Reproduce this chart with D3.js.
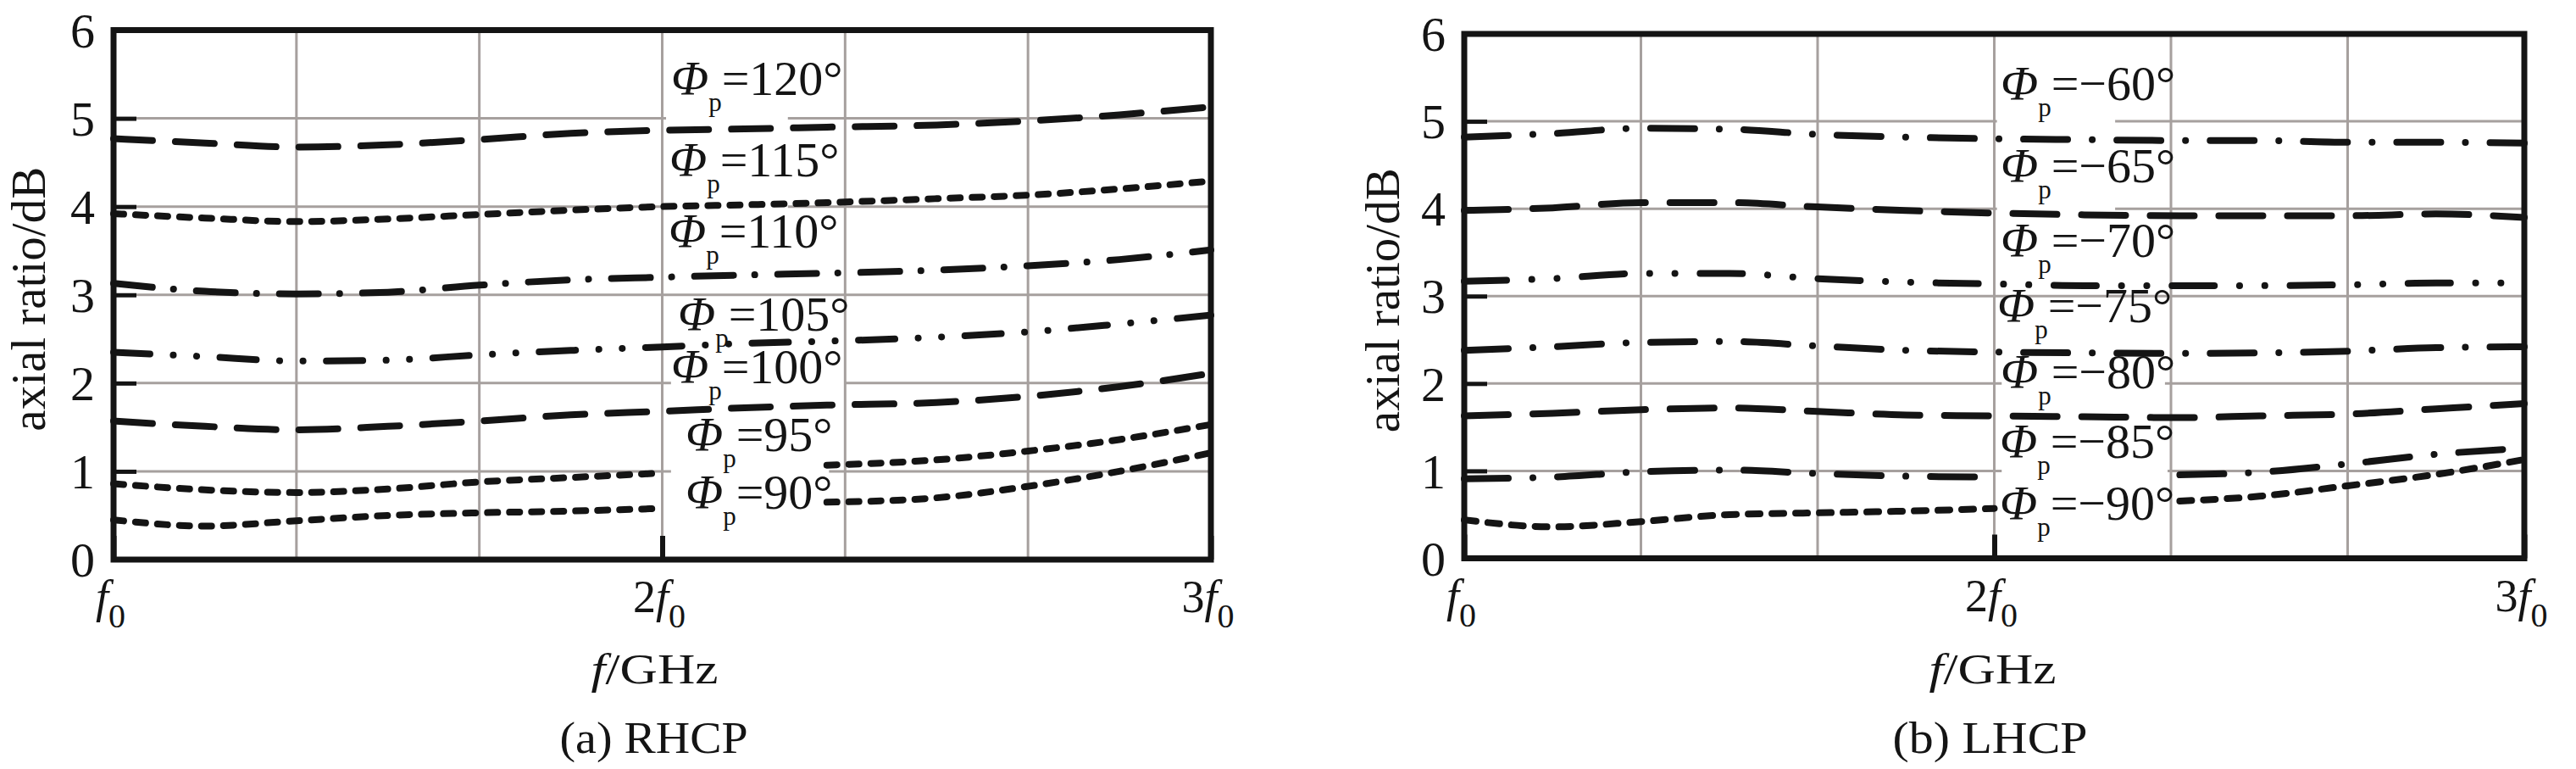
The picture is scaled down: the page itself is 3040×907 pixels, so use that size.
<!DOCTYPE html>
<html><head><meta charset="utf-8">
<script src="https://cdn.jsdelivr.net/npm/d3@7"></script>
<style>
html,body{margin:0;padding:0;background:#fff;}
svg{display:block;}
text{font-family:"Liberation Serif","Times New Roman",serif;fill:#141414;}
</style></head><body>
<svg id="chart" width="3040" height="907"></svg>
<script>
// ---------------- data ----------------
const xTickValues = [1, 2, 3];
const xTickCoef = ["", "2", "3"];
const yTickValues = [0, 1, 2, 3, 4, 5, 6];
const gridFreqs = [1, 4/3, 5/3, 2, 7/3, 8/3, 3];

// (a) RHCP  (frequency in units of f0)
const freqA = [1, 1.1667, 1.3333, 1.5, 1.6667, 1.8333, 2, 2.15, 2.3, 2.5, 2.6667, 2.8333, 3];
const rhcp120 = [4.77, 4.72, 4.675, 4.70, 4.76, 4.83, 4.865, 4.88, 4.90, 4.925, 4.97, 5.04, 5.13];
const rhcp115 = [3.92, 3.87, 3.83, 3.86, 3.91, 3.96, 4.00, 4.02, 4.045, 4.09, 4.13, 4.20, 4.29];
const rhcp110 = [3.13, 3.04, 3.01, 3.03, 3.11, 3.17, 3.20, 3.225, 3.245, 3.28, 3.33, 3.40, 3.51];
const rhcp105 = [2.35, 2.30, 2.25, 2.26, 2.32, 2.37, 2.41, 2.45, 2.475, 2.52, 2.58, 2.67, 2.77];
const rhcp100 = [1.57, 1.51, 1.47, 1.51, 1.57, 1.64, 1.68, 1.72, 1.75, 1.78, 1.85, 1.96, 2.11];
const rhcp95  = [0.86, 0.79, 0.76, 0.80, 0.88, 0.93, 0.98, null, 1.07, 1.13, 1.23, 1.36, 1.53];
const rhcp90  = [0.45, 0.38, 0.44, 0.50, 0.53, 0.55, 0.58, null, 0.65, 0.70, 0.83, 1.00, 1.21];
const labelsA = ["=120°", "=115°", "=110°", "=105°", "=100°", "=95°", "=90°"];

// (b) LHCP
const freqB = [1, 1.1667, 1.3333, 1.5, 1.6667, 1.8333, 2, 2.17, 2.35, 2.5, 2.6667, 2.8333, 3];
const lhcp60 = [4.82, 4.86, 4.92, 4.91, 4.85, 4.82, 4.80, 4.79, 4.78, 4.78, 4.76, 4.76, 4.75];
const lhcp65 = [3.98, 4.01, 4.07, 4.07, 4.02, 3.98, 3.95, 3.93, 3.92, 3.92, 3.92, 3.94, 3.90];
const lhcp70 = [3.17, 3.20, 3.26, 3.26, 3.20, 3.16, 3.14, 3.12, 3.12, 3.12, 3.13, 3.15, 3.15];
const lhcp75 = [2.38, 2.42, 2.47, 2.48, 2.43, 2.38, 2.36, 2.35, 2.345, 2.35, 2.37, 2.41, 2.42];
const lhcp80 = [1.63, 1.66, 1.70, 1.72, 1.68, 1.64, 1.63, 1.62, 1.61, 1.63, 1.65, 1.71, 1.77];
const lhcp85 = [0.91, 0.93, 0.99, 1.01, 0.97, 0.94, 0.93, null, 0.955, 0.985, 1.08, 1.19, 1.26];
const lhcp90 = [0.44, 0.36, 0.42, 0.50, 0.52, 0.54, 0.57, null, 0.655, 0.71, 0.83, 0.96, 1.13];
const labelsB = ["=\u221260°", "=\u221265°", "=\u221270°", "=\u221275°", "=\u221280°", "=\u221285°", "=\u221290°"];

// ---------------- styling / layout ----------------
const INK = "#141414", GRID = "#a6a09e";
const svg = d3.select("#chart");

const panels = [
  {
    xRange: [134, 1429], yRange: [660, 35.5],
    freq: freqA,
    series: [rhcp120, rhcp115, rhcp110, rhcp105, rhcp100, rhcp95, rhcp90],
    styles: ["long", "short", "dashdot", "dashdotdot", "long", "short", "short"],
    dash: {long: "46,27", short: "12,14", dashdot: "46,25,0.1,27", dashdotdot: "43,27.5,0.1,27.5,0.1,27.5"},
    labels: labelsA,
    labelDx: [10.5, 8.5, 7.5, 18.5, 10.5, 27.5, 27.5],
    labelBase: [112, 208, 292, 390, 452, 532, 600],
    gaps: {5: [2.007, 2.229], 4: [2.007, 2.229], 2: [2.016, 2.333], 1: [2.016, 2.304]},
    titleX: 53, xLabelDx: -9, capDx: -10, caption: "(a) RHCP", capLen: 222
  },
  {
    xRange: [1728, 2979], yRange: [658.5, 40],
    freq: freqB,
    series: [lhcp60, lhcp65, lhcp70, lhcp75, lhcp80, lhcp85, lhcp90],
    styles: ["dashdot", "long", "dashdotdot", "dashdot", "long", "dashdot", "short"],
    dash: {long: "52,29", short: "14,14", dashdot: "52,29,0.1,29", dashdotdot: "50,29.7,0.1,29.7,0.1,29.7"},
    labels: labelsB,
    labelDx: [7.5, 7.5, 7.5, 3.5, 7.5, 6.5, 6.5],
    labelBase: [118, 215, 303, 380, 458, 540, 613],
    gaps: {5: [2.005, 2.228], 4: [2.005, 2.228], 2: [2.014, 2.322], 1: [2.014, 2.327]},
    titleX: 1651, xLabelDx: -2, capDx: -5, caption: "(b) LHCP", capLen: 230
  }
];

panels.forEach(cfg => {
  const x = d3.scaleLinear().domain([1, 3]).range(cfg.xRange);
  const y = d3.scaleLinear().domain([0, 6]).range(cfg.yRange);
  const g = svg.append("g");

  // vertical grid
  g.append("g").selectAll("line").data(gridFreqs.slice(1, -1)).join("line")
    .attr("x1", d => x(d)).attr("x2", d => x(d))
    .attr("y1", y(6)).attr("y2", y(0))
    .attr("stroke", GRID).attr("stroke-width", 3);

  // horizontal grid (interrupted behind labels)
  const segs = [];
  [1, 2, 3, 4, 5].forEach(v => {
    const gp = cfg.gaps[v];
    if (gp) { segs.push([v, 1, gp[0]]); segs.push([v, gp[1], 3]); }
    else segs.push([v, 1, 3]);
  });
  g.append("g").selectAll("line").data(segs).join("line")
    .attr("x1", d => x(d[1])).attr("x2", d => x(d[2]))
    .attr("y1", d => y(d[0])).attr("y2", d => y(d[0]))
    .attr("stroke", GRID).attr("stroke-width", 3);

  // curves
  const line = d3.line()
    .defined(d => d[1] != null)
    .x(d => x(d[0])).y(d => y(d[1]))
    .curve(d3.curveMonotoneX);
  cfg.series.forEach((vals, i) => {
    const pts = cfg.freq.map((f, k) => [f, vals[k]]);
    g.append("path").attr("d", line(pts))
      .attr("fill", "none").attr("stroke", INK).attr("stroke-width", 8)
      .attr("stroke-linecap", "round").attr("stroke-linejoin", "round")
      .attr("stroke-dasharray", cfg.dash[cfg.styles[i]]);
  });

  // curve labels  Φp=...
  cfg.labels.forEach((lab, i) => {
    const t = g.append("text")
      .attr("x", x(2) + cfg.labelDx[i]).attr("y", cfg.labelBase[i])
      .attr("font-size", 58);
    t.append("tspan").attr("font-style", "italic").text("\u03A6");
    t.append("tspan").attr("font-size", 31).attr("dy", 19).text("p");
    t.append("tspan").attr("dy", -19).text(lab);
  });

  // y axis
  const ya = g.append("g").attr("transform", `translate(${x(1)},0)`)
    .call(d3.axisLeft(y).tickValues(yTickValues).tickSize(-27).tickPadding(22).tickFormat(d3.format("d")));
  ya.select(".domain").remove();
  ya.selectAll(".tick line").attr("stroke", INK).attr("stroke-width", 5);
  ya.selectAll(".tick text").attr("font-family", "Liberation Serif, Times New Roman, serif")
    .attr("font-size", 58).attr("fill", INK).attr("dy", "0.34em");
  ya.attr("font-family", null).attr("font-size", null);

  // x axis
  const xa = g.append("g").attr("transform", `translate(0,${y(0)})`)
    .call(d3.axisBottom(x).tickValues(xTickValues).tickSize(-28).tickFormat(() => ""));
  xa.select(".domain").remove();
  xa.attr("font-family", null).attr("font-size", null);
  xa.selectAll(".tick line").attr("stroke", INK).attr("stroke-width", 6);
  xa.selectAll(".tick text").each(function (d, i) {
    const t = d3.select(this).attr("y", 62).attr("dy", 0).attr("x", -4)
      .attr("font-size", 54).attr("fill", INK).attr("text-anchor", "middle")
      .attr("font-family", "Liberation Serif, Times New Roman, serif");
    t.text(null);
    if (xTickCoef[i]) t.append("tspan").text(xTickCoef[i]);
    t.append("tspan").attr("font-style", "italic").text("f");
    t.append("tspan").attr("font-size", 40).attr("dy", 18).text("0");
  });

  // frame
  g.append("rect")
    .attr("x", x(1)).attr("y", y(6))
    .attr("width", x(3) - x(1)).attr("height", y(0) - y(6))
    .attr("fill", "none").attr("stroke", INK).attr("stroke-width", 7);

  // axis titles
  g.append("text")
    .attr("transform", `translate(${cfg.titleX},${(y(0) + y(6)) / 2 + 5}) rotate(-90)`)
    .attr("text-anchor", "middle").attr("font-size", 57)
    .text("axial ratio/dB");

  const xl = g.append("text")
    .attr("x", x(2) + cfg.xLabelDx).attr("y", 806)
    .attr("text-anchor", "middle").attr("font-size", 50)
    .attr("textLength", 150).attr("lengthAdjust", "spacingAndGlyphs");
  xl.append("tspan").attr("font-style", "italic").text("f");
  xl.append("tspan").text("/GHz");

  g.append("text")
    .attr("x", x(2) + cfg.capDx).attr("y", 888)
    .attr("text-anchor", "middle").attr("font-size", 52)
    .attr("textLength", cfg.capLen).attr("lengthAdjust", "spacingAndGlyphs")
    .text(cfg.caption);
});
</script>
</body></html>
